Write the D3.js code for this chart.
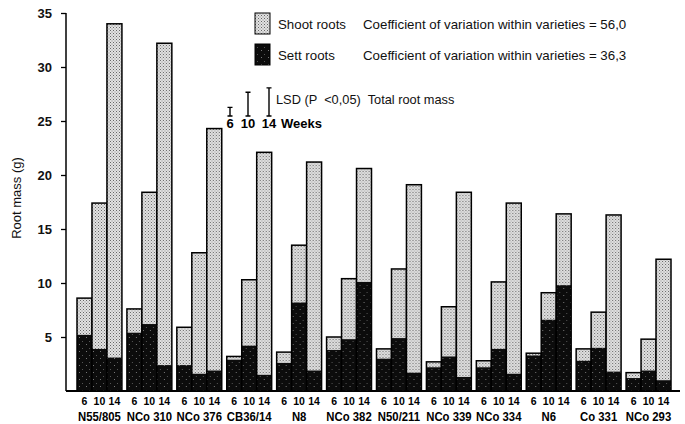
<!DOCTYPE html>
<html>
<head>
<meta charset="utf-8">
<script src="https://cdn.jsdelivr.net/npm/d3@7"></script>
<style>
  body { margin: 0; background: #fff; }
  svg { display: block; font-family: "Liberation Sans", Arial, sans-serif; }
</style>
</head>
<body>
<div id="chart"></div>
<script>
// data
const varieties = ['N55/805', 'NCo 310', 'NCo 376', 'CB36/14', 'N8', 'NCo 382',
                   'N50/211', 'NCo 339', 'NCo 334', 'N6', 'Co 331', 'NCo 293'];
const weeks = [6, 10, 14];

// sett roots (g), one triple per variety: 6, 10, 14 weeks
const settRoots = [
  [5.2, 3.9, 3.1], [5.4, 6.2, 2.4], [2.4, 1.6, 1.9], [2.9, 4.2, 1.5],
  [2.6, 8.2, 1.9], [3.8, 4.8, 10.1], [3.0, 4.9, 1.7], [2.2, 3.2, 1.3],
  [2.2, 3.9, 1.6], [3.3, 6.6, 9.8], [2.8, 4.0, 1.8], [1.2, 1.9, 1.0]
];
// shoot roots (g), stacked on top of sett roots
const shootRoots = [
  [3.4, 13.5, 30.9], [2.2, 12.2, 29.8], [3.5, 11.2, 22.4], [0.3, 6.1, 20.6],
  [1.0, 5.3, 19.3], [1.2, 5.6, 10.5], [0.9, 6.4, 17.4], [0.5, 4.6, 17.1],
  [0.6, 6.2, 15.8], [0.2, 2.5, 6.6], [1.1, 3.3, 14.5], [0.5, 2.9, 11.2]
];
const yTicks = [5, 10, 15, 20, 25, 30, 35];
const lsdTotal = [0.8, 2.2, 2.6]; // LSD bars for 6, 10, 14 weeks
const legendItems = [
  { key: 'shoot', label: 'Shoot roots', cv: 'Coefficient of variation within varieties = 56,0' },
  { key: 'sett', label: 'Sett roots', cv: 'Coefficient of variation within varieties = 36,3' }
];

const width = 685, height = 424;
const svg = d3.select('#chart').append('svg')
  .attr('width', width)
  .attr('height', height);

// stipple patterns
const defs = svg.append('defs');
const pShoot = defs.append('pattern').attr('id', 'shoot')
  .attr('width', 3).attr('height', 3).attr('patternUnits', 'userSpaceOnUse');
pShoot.append('rect').attr('width', 3).attr('height', 3).attr('fill', '#e2e2e2');
pShoot.append('rect').attr('x', 0).attr('y', 0).attr('width', 1).attr('height', 1).attr('fill', '#666');
pShoot.append('rect').attr('x', 1.5).attr('y', 1.5).attr('width', 1).attr('height', 1).attr('fill', '#888');

const pSett = defs.append('pattern').attr('id', 'sett')
  .attr('width', 7).attr('height', 7).attr('patternUnits', 'userSpaceOnUse');
pSett.append('rect').attr('width', 7).attr('height', 7).attr('fill', '#0c0c0c');
pSett.append('rect').attr('x', 2).attr('y', 1).attr('width', 1).attr('height', 1).attr('fill', '#777');
pSett.append('rect').attr('x', 5).attr('y', 5).attr('width', 1).attr('height', 1).attr('fill', '#555');

const fills = { shoot: 'url(#shoot)', sett: 'url(#sett)' };

// scales
const y = d3.scaleLinear().domain([0, 35]).range([391, 13]);
const x = d3.scaleBand().domain(varieties).range([77, 671]).paddingInner(0.1);
const xw = d3.scaleBand().domain(weeks).range([0, x.bandwidth()]);

// axes
const yAxis = svg.append('g')
  .attr('transform', 'translate(66,0)')
  .call(d3.axisLeft(y).tickValues(yTicks).tickSize(5).tickPadding(9).tickFormat(d3.format('d')));
yAxis.select('.domain').attr('stroke-width', 1.5).attr('d', `M0,${y(35)}V${y(0)}`);
yAxis.selectAll('.tick line').attr('stroke-width', 1.3);
yAxis.selectAll('.tick text').attr('font-size', 13).attr('font-weight', 'bold').attr('fill', '#111')
  .attr('font-family', '"Liberation Sans", Arial, sans-serif');

svg.append('line')
  .attr('x1', 66).attr('x2', 680)
  .attr('y1', y(0)).attr('y2', y(0))
  .attr('stroke', '#000').attr('stroke-width', 1.8);

svg.append('text')
  .attr('transform', `translate(21,198) rotate(-90)`)
  .attr('text-anchor', 'middle')
  .attr('font-size', 13)
  .attr('fill', '#111')
  .text('Root mass (g)');

// bars
const groups = svg.append('g').selectAll('g')
  .data(varieties)
  .join('g')
  .attr('transform', d => `translate(${x(d)},0)`);

groups.each(function (v, i) {
  const g = d3.select(this);
  weeks.forEach((w, j) => {
    const s = settRoots[i][j];
    const t = s + shootRoots[i][j];
    g.append('rect')
      .attr('x', xw(w)).attr('width', xw.bandwidth())
      .attr('y', y(t)).attr('height', y(s) - y(t))
      .attr('fill', fills.shoot);
    g.append('rect')
      .attr('x', xw(w)).attr('width', xw.bandwidth())
      .attr('y', y(s)).attr('height', y(0) - y(s))
      .attr('fill', fills.sett);
    g.append('rect')
      .attr('x', xw(w)).attr('width', xw.bandwidth())
      .attr('y', y(t)).attr('height', y(0) - y(t))
      .attr('fill', 'none').attr('stroke', '#000').attr('stroke-width', 1.5);
  });
  // week labels
  g.selectAll('text.wk')
    .data(weeks)
    .join('text')
    .attr('class', 'wk')
    .attr('x', d => xw(d) + xw.bandwidth() / 2)
    .attr('y', 405)
    .attr('text-anchor', 'middle')
    .attr('font-size', 10.5)
    .attr('font-weight', 'bold')
    .text(d => d);
  // variety name, squeezed to look condensed
  g.append('text')
    .attr('transform', `translate(${x.bandwidth() / 2},421) scale(0.84,1)`)
    .attr('text-anchor', 'middle')
    .attr('font-size', 13.5)
    .attr('font-weight', 'bold')
    .text(v);
});

// legend
const legend = svg.append('g');
legendItems.forEach((d, i) => {
  const top = 13 + i * 31;
  legend.append('rect')
    .attr('x', 255).attr('y', top).attr('width', 15).attr('height', 21)
    .attr('fill', fills[d.key]).attr('stroke', '#000').attr('stroke-width', 1);
  legend.append('text')
    .attr('x', 278).attr('y', top + 16)
    .attr('font-size', 13.3).attr('fill', '#111')
    .text(d.label);
  legend.append('text')
    .attr('x', 363).attr('y', top + 16)
    .attr('font-size', 13.3).attr('fill', '#111')
    .text(d.cv);
});

// LSD bars
const lsdX = [230, 248, 269];
const lsdBase = 116;
const lsd = svg.append('g');
lsdTotal.forEach((v, i) => {
  const h = y(0) - y(v);
  const top = lsdBase - h;
  lsd.append('path')
    .attr('d', `M${lsdX[i] - 2.5},${top}H${lsdX[i] + 2.5}M${lsdX[i]},${top}V${lsdBase}M${lsdX[i] - 2.5},${lsdBase}H${lsdX[i] + 2.5}`)
    .attr('stroke', '#000').attr('stroke-width', 1.4).attr('fill', 'none');
});
lsd.append('text')
  .attr('x', 276).attr('y', 104)
  .attr('font-size', 12.8).attr('fill', '#111')
  .attr('xml:space', 'preserve')
  .text('LSD (P  <0,05)  Total root mass');
lsd.selectAll('text.lw')
  .data(weeks)
  .join('text')
  .attr('class', 'lw')
  .attr('x', (d, i) => lsdX[i])
  .attr('y', 128)
  .attr('text-anchor', 'middle')
  .attr('font-size', 13)
  .attr('font-weight', 'bold')
  .text(d => d);
lsd.append('text')
  .attr('x', 281).attr('y', 128)
  .attr('font-size', 13)
  .attr('font-weight', 'bold')
  .text('Weeks');
</script>
</body>
</html>
